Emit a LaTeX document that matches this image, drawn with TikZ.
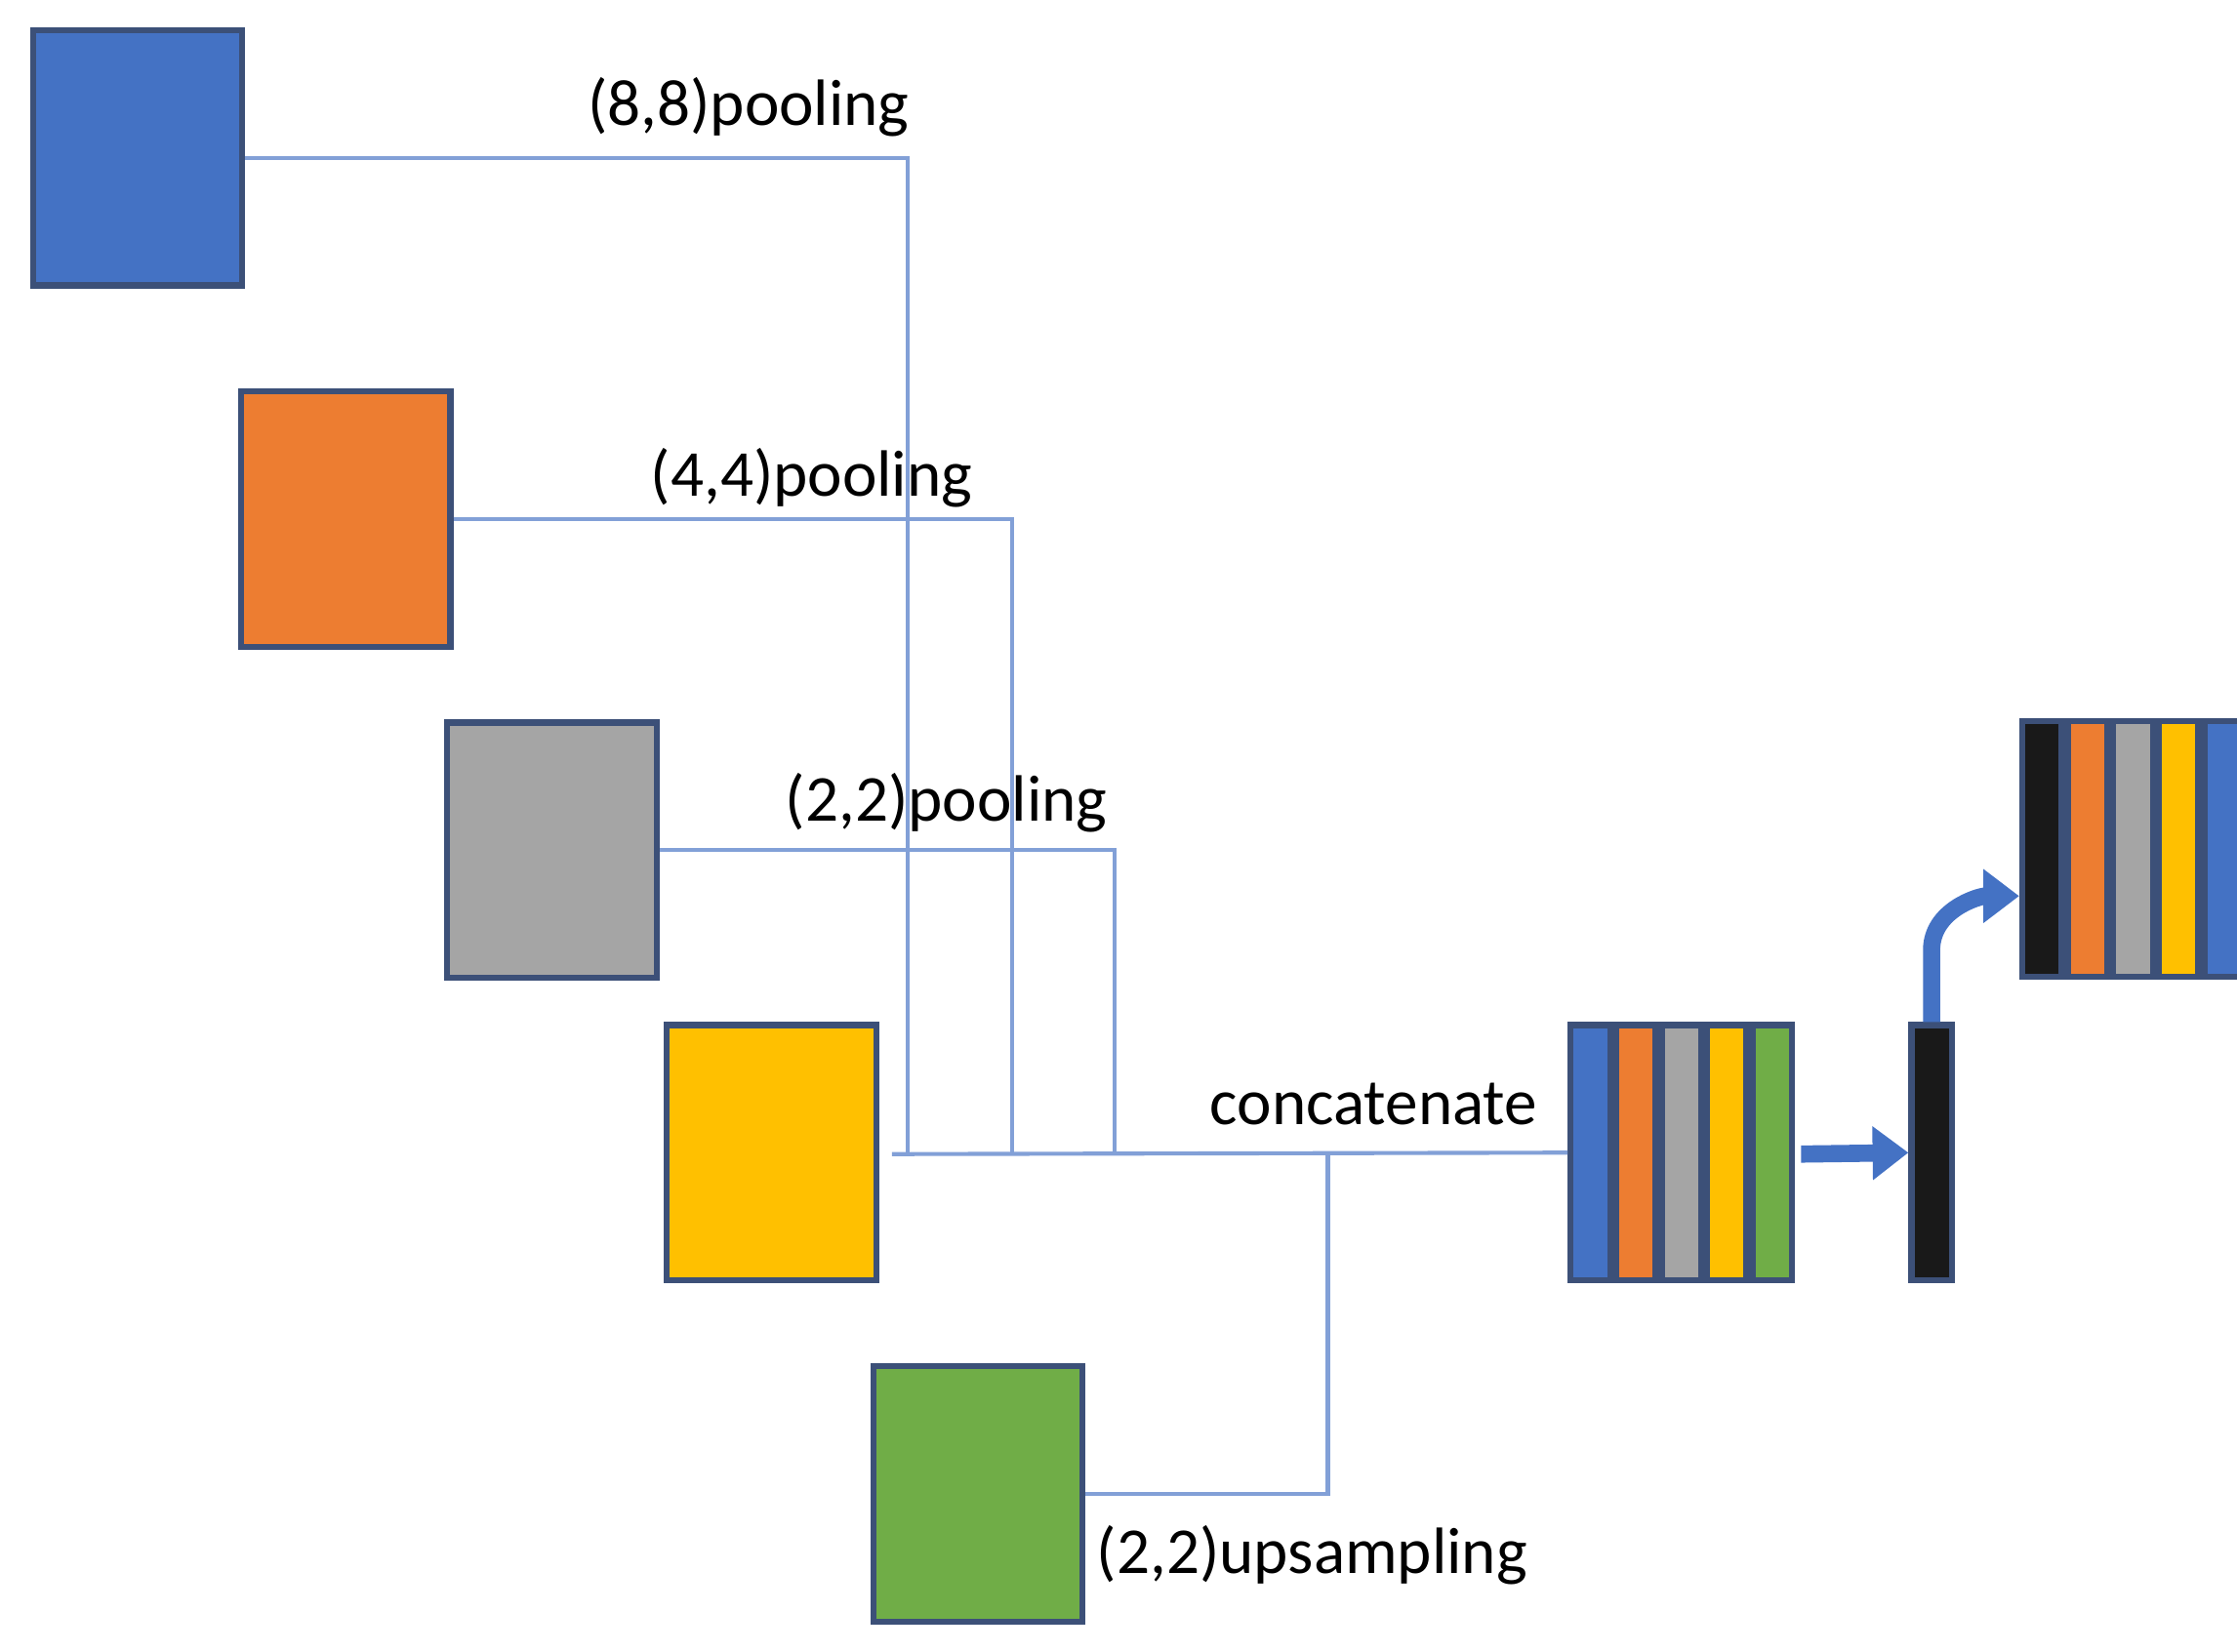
\documentclass[tikz,border=0pt]{standalone}
\usepackage{fontspec}
\setmainfont{Carlito}
\usetikzlibrary{positioning,arrows.meta}
\definecolor{cblue}{RGB}{68,114,196}
\definecolor{corange}{RGB}{237,125,49}
\definecolor{cgray}{RGB}{165,165,165}
\definecolor{cyellow}{RGB}{255,192,0}
\definecolor{cgreen}{RGB}{112,173,71}
\definecolor{cline}{RGB}{130,160,215}
\definecolor{cedge}{RGB}{60,80,120}
\begin{document}
\begin{tikzpicture}[x=0.01cm, y=-0.01cm,
	box/.style={rectangle, draw=cedge, line width=1.2pt, minimum width=1.46cm, minimum height=1.78cm, inner sep=0pt},
	stripe/.style={rectangle, draw=cedge, line width=1.2pt, minimum width=0.275cm, minimum height=1.78cm, inner sep=0pt},
	link/.style={draw=cline, line width=0.8pt},
	lbl/.style={font=\fontsize{13}{15}\selectfont, inner sep=0pt},
	fat/.style={-{Triangle[length=0.25cm, width=0.36cm]}, line width=0.12cm, cblue}]
	\useasboundingbox (0,0) rectangle (1560,1152);
	% input maps
	\node[box, fill=cblue] (b8) at (96,110) {};
	\node[box, fill=corange] (b4) at (241,362) {};
	\node[box, fill=cgray] (b2) at (385,593) {};
	\node[box, fill=cyellow] (b1) at (538,804) {};
	\node[box, fill=cgreen] (bup) at (682,1042) {};
	% concatenated block
	\node[stripe, fill=cblue] (c1) at (1109,804) {};
	\node[stripe, fill=corange, right=0pt of c1] (c2) {};
	\node[stripe, fill=cgray, right=0pt of c2] (c3) {};
	\node[stripe, fill=cyellow, right=0pt of c3] (c4) {};
	\node[stripe, fill=cgreen, right=0pt of c4] (c5) {};
	\node[stripe, fill=black!90, minimum width=0.28cm] (bar) at (1347,804) {};
	% output block
	\node[stripe, fill=black!90] (o1) at (1424,592) {};
	\node[stripe, fill=corange, right=0pt of o1] (o2) {};
	\node[stripe, fill=cgray, right=0pt of o2] (o3) {};
	\node[stripe, fill=cyellow, right=0pt of o3] (o4) {};
	\node[stripe, fill=cblue, right=0pt of o4] (o5) {};
	% connections
	\coordinate (m8) at (633,805);
	\coordinate (m4) at (706,805);
	\coordinate (m2) at (777,805);
	\coordinate (mu) at (926,805);
	\coordinate (m0) at (622,805);
	\draw[link] (b8.east) -| (m8);
	\draw[link] (b4.east) -| (m4);
	\draw[link] (b2.east) -| (m2);
	\draw[link] (bup.east) -| (mu);
	\draw[link] (m0) -- (c1.west);
	\node[lbl] (t8) at (522,75) {(8,8)pooling};
	\node[lbl] (t4) at (566,333) {(4,4)pooling};
	\node[lbl] (t2) at (660,560) {(2,2)pooling};
	\node[lbl] (tc) at (958,770) {concatenate};
	\node[lbl] (tu) at (915,1085) {(2,2)upsampling};
	% arrows
	\coordinate (a0) at (1256,805);
	\draw[fat] (a0) -- (bar.west);
	\draw[fat] (bar.north) -- ++(0,-50) to[out=90, in=180] (o1.west |- 0,625);
\end{tikzpicture}
\end{document}
